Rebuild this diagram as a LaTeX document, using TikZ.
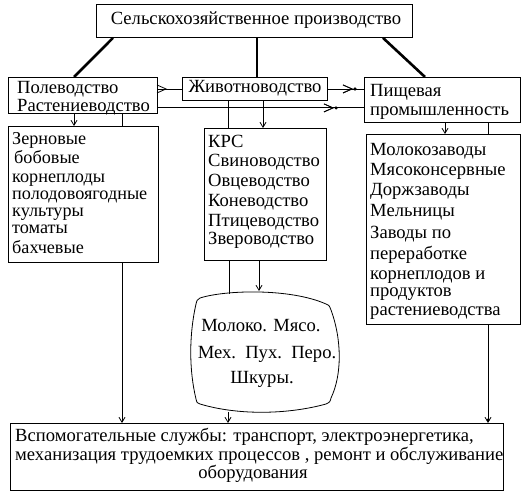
\documentclass[tikz,border=0pt]{standalone}
\usepackage{fontspec}
\setmainfont{Liberation Serif}
\usetikzlibrary{arrows.meta,calc,decorations.markings}
\begin{document}
\begin{tikzpicture}[x=1pt,y=-1pt,
  box/.style={draw,line width=0.9pt,inner sep=0pt,anchor=north west},
  fnt/.style={font=\fontsize{18.6}{18.6}\selectfont},
  sfnt/.style={font=\fontsize{18.2}{18.2}\selectfont},
  txt/.style={fnt,anchor=base west,inner sep=0pt},
  stxt/.style={sfnt,anchor=base west,inner sep=0pt},
  ctxt/.style={fnt,anchor=base,inner sep=0pt},
  heavy/.style={line width=2.6pt},
  conn/.style={line width=0.8pt},
  varr/.style={conn,-{Straight Barb[length=5pt,width=6pt]}},
  harr/.style={conn,decoration={markings,
     mark=at position #1 with {\arrow{Straight Barb[length=9pt,width=8pt]}}},postaction={decorate}},
  hdot/.style={decoration={markings,
     mark=at position #1 with {\fill (0,0) circle (1.6pt);}},postaction={decorate}},
]
\useasboundingbox (0,0) rectangle (529,494);

% boxes
\node[box,minimum width=316pt,minimum height=33pt] (top) at (96,4) {};
\node[box,minimum width=149pt,minimum height=36pt] (pole) at (8,77) {};
\node[box,minimum width=145pt,minimum height=23pt] (zhiv) at (182,77) {};
\node[box,minimum width=156pt,minimum height=45pt] (pish) at (364,77) {};
\node[box,minimum width=150pt,minimum height=136pt] (zern) at (8,126) {};
\node[box,minimum width=122pt,minimum height=132pt] (krs) at (204,128) {};
\node[box,minimum width=154pt,minimum height=190pt] (molz) at (366,134) {};
\node[box,minimum width=493pt,minimum height=67pt] (vsp) at (10,423) {};

% blob
\draw[line width=0.8pt] (200,298) .. controls (225,290) and (290,288) .. (326,304)
  .. controls (329,305) .. (331,310)
  .. controls (342,340) and (342,375) .. (331,398)
  .. controls (330,402) .. (326,404)
  .. controls (290,414) and (240,416) .. (200,404)
  .. controls (197,403) .. (196,399)
  .. controls (189,370) and (189,335) .. (196,304)
  .. controls (197,300) .. (200,298);
\coordinate (blobT1) at (229,293.5);
\coordinate (blobT2) at (259,291);
\coordinate (blobB) at (228,412);

% texts
\node[fnt,inner sep=0pt] (toptxt) at (256,20.5) {Сельскохозяйственное производство};
\node[txt] (p1) at (17,94) {Полеводство};
\node[txt] (p2) at (17,112) {Растениеводство};
\node[fnt,inner sep=0pt] (zhivtxt) at (255,88.5) {Животноводство};
\node[txt] (s1) at (370,97) {Пищевая};
\node[txt] (s2) at (370,116) {промышленность};

\foreach \t/\x/\y [count=\i] in {Зерновые/12/145, бобовые/14/164, корнеплоды/12/182.5,
   полодовоягодные/12/199.5, культуры/12/216, томаты/12/233, бахчевые/12/253}
  \node[stxt] (z\i) at (\x,\y) {\t};

\foreach \t/\y [count=\i] in {КРС/148, Свиноводство/167, Овцеводство/186,
   Коневодство/206, Птицеводство/226, Звероводство/244}
  \node[txt] (k\i) at (208,\y) {\t};

\foreach \t/\y [count=\i] in {Молокозаводы/156, Мясоконсервные/176, Доржзаводы/196,
   Мельницы/216, Заводы по/238, переработке/259, корнеплодов и/279,
   продуктов/296, растениеводства/315}
  \node[txt] (m\i) at (370,\y) {\t};

\node[ctxt] (b1) at (261,331) {Молоко. Мясо.};
\node[ctxt] (b2) at (267,358) {Мех.\ \ Пух.\ \ Перо.};
\node[ctxt] (b3) at (262,383) {Шкуры.};

\node[txt] (v1) at (15,441) {Вспомогательные службы: транспорт, электроэнергетика,};
\node[txt] (v2) at (15,460) {механизация трудоемких процессов , ремонт и обслуживание};
\node[ctxt] (v3) at (253,478) {оборудования};

% heavy links
\draw[heavy] ($(top.south west)+(17,0)$) -- ($(pole.north west)+(66,0)$);
\draw[heavy] ($(top.south west)+(161,0)$) -- ($(zhiv.north west)+(75,0)$);
\draw[heavy] ($(top.south west)+(287,0)$) -- ($(pish.north west)+(61,0)$);

% horizontal links
\draw[harr=-15pt] (zhiv.west -| pole.east) -- (zhiv.west);
\draw[harr=-11pt,hdot=-9pt] (zhiv.east) -- (zhiv.east -| pish.west);
\draw[harr=-30pt,hdot=-28pt] ($(pole.south east)+(0,-6)$) coordinate (pr) -- (pr -| pish.west);

% vertical links
\draw[varr] ($(pole.south west)+(66,0)$) -- ($(zern.north west)+(66,0)$);
\draw[conn] ($(pole.south west)+(114,0)$) -- ($(zern.north west)+(114,0)$);
\draw[varr] ($(zern.south west)+(114,0)$) -- ($(vsp.north west)+(112,0)$);
\draw[conn] ($(zhiv.south west)+(46,0)$) -- ($(krs.north west)+(24,0)$);
\draw[varr] ($(zhiv.south west)+(81,0)$) -- ($(krs.north west)+(59,0)$);
\draw[conn] ($(krs.south west)+(25,0)$) -- (blobT1);
\draw[varr] ($(krs.south west)+(55,0)$) -- (blobT2);
\draw[varr] (blobB) -- ($(vsp.north west)+(218,0)$);
\draw[varr] ($(pish.south west)+(81,0)$) -- ($(molz.north west)+(79,0)$);
\draw[conn] ($(pish.south west)+(124,0)$) -- ($(molz.north west)+(122,0)$);
\draw[varr,hdot=-3pt] ($(molz.south west)+(122,0)$) -- ($(vsp.north west)+(478,0)$);
\end{tikzpicture}
\end{document}
